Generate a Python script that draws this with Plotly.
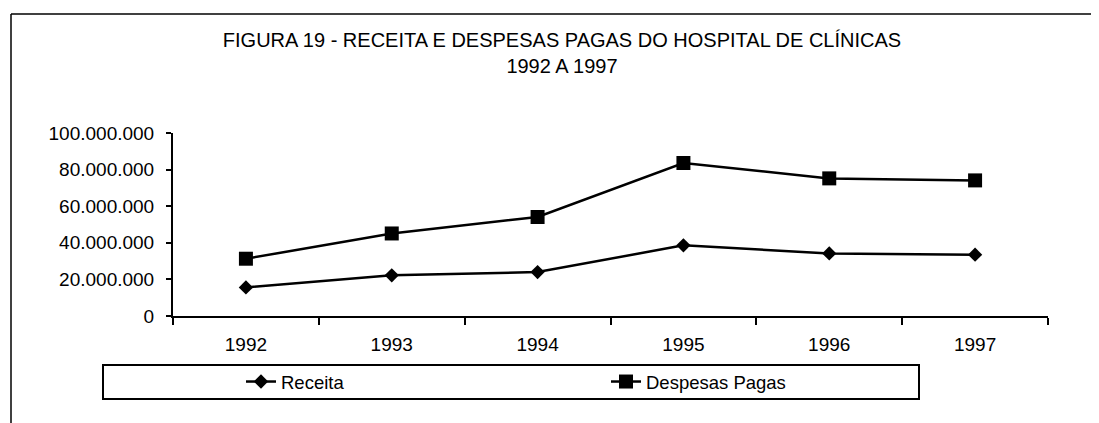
import plotly.graph_objects as go

# Dados
anos = ['1992', '1993', '1994', '1995', '1996', '1997']
receita = [15.6e6, 22.2e6, 24.0e6, 38.6e6, 34.2e6, 33.5e6]
despesas_pagas = [31.3e6, 45.1e6, 54.1e6, 83.6e6, 75.2e6, 74.1e6]
y_ticks = [0, 20e6, 40e6, 60e6, 80e6, 100e6]

# a pagina tem margem de 8px no body: a figura fica deslocada
OX, OY = 8, 8
W, H = 1099 - OX, 423 - OY
# area do grafico na janela: x 173..1048, y 133..316
L, R = 173 - OX, W - (1048 - OX)
T, B = 133 - OY, H - (316 - OY)
FONTE = 'Liberation Sans, Arial, sans-serif'

def px_x(px):
    # px = coordenada na janela
    return (px - OX - L) / (W - L - R)

def px_y(py):
    return (H - B - (py - OY)) / (H - T - B)

fig = go.Figure()
fig.add_trace(go.Scatter(
    x=anos, y=receita, name='Receita', mode='lines+markers',
    line=dict(color='black', width=2.5),
    marker=dict(symbol='diamond', size=11, color='black')
))
fig.add_trace(go.Scatter(
    x=anos, y=despesas_pagas, name='Despesas Pagas', mode='lines+markers',
    line=dict(color='black', width=2.5),
    marker=dict(symbol='square', size=14, color='black')
))

fig.update_layout(
    width=W, height=H,
    margin=dict(l=L, r=R, t=T, b=B),
    paper_bgcolor='white', plot_bgcolor='white',
    separators=',.',
    font=dict(family=FONTE, color='black', size=19),
    title=dict(
        text='FIGURA 19 - RECEITA E DESPESAS PAGAS DO HOSPITAL DE CLÍNICAS<br>1992 A 1997',
        x=(562 - OX) / W, xanchor='center', y=1 - 39 / H, yanchor='top',
        font=dict(size=20)
    ),
    showlegend=True,
    legend=dict(
        orientation='h', x=px_x(241), xanchor='left',
        y=px_y(382), yanchor='middle',
        bgcolor='rgba(0,0,0,0)', borderwidth=0,
        entrywidth=320, entrywidthmode='pixels',
        font=dict(size=18.5)
    ),
)

fig.update_xaxes(
    type='category', range=[-0.5, 5.5],
    showline=True, linecolor='black', linewidth=2,
    ticks='outside', tickson='boundaries', ticklen=7, tickcolor='black', tickwidth=2,
    ticklabelstandoff=10,
    showgrid=False, zeroline=False, tickfont=dict(size=19)
)
fig.update_yaxes(
    range=[0, 100e6], tickvals=y_ticks, tickformat=',d',
    showline=True, linecolor='black', linewidth=2,
    ticks='outside', ticklen=5, tickcolor='black', tickwidth=2,
    ticklabelstandoff=8,
    showgrid=False, zeroline=False, tickfont=dict(size=19)
)

# moldura da legenda e do quadro
fig.add_shape(type='rect', xref='paper', yref='paper',
              x0=px_x(103), x1=px_x(919), y0=px_y(399), y1=px_y(365),
              line=dict(color='black', width=2))
fig.add_shape(type='line', xref='paper', yref='paper',
              x0=px_x(11), x1=px_x(1099), y0=px_y(14), y1=px_y(14),
              line=dict(color='black', width=1.5))
fig.add_shape(type='line', xref='paper', yref='paper',
              x0=px_x(11), x1=px_x(11), y0=px_y(14), y1=px_y(423),
              line=dict(color='black', width=1.5))

fig.write_html('out.html')
